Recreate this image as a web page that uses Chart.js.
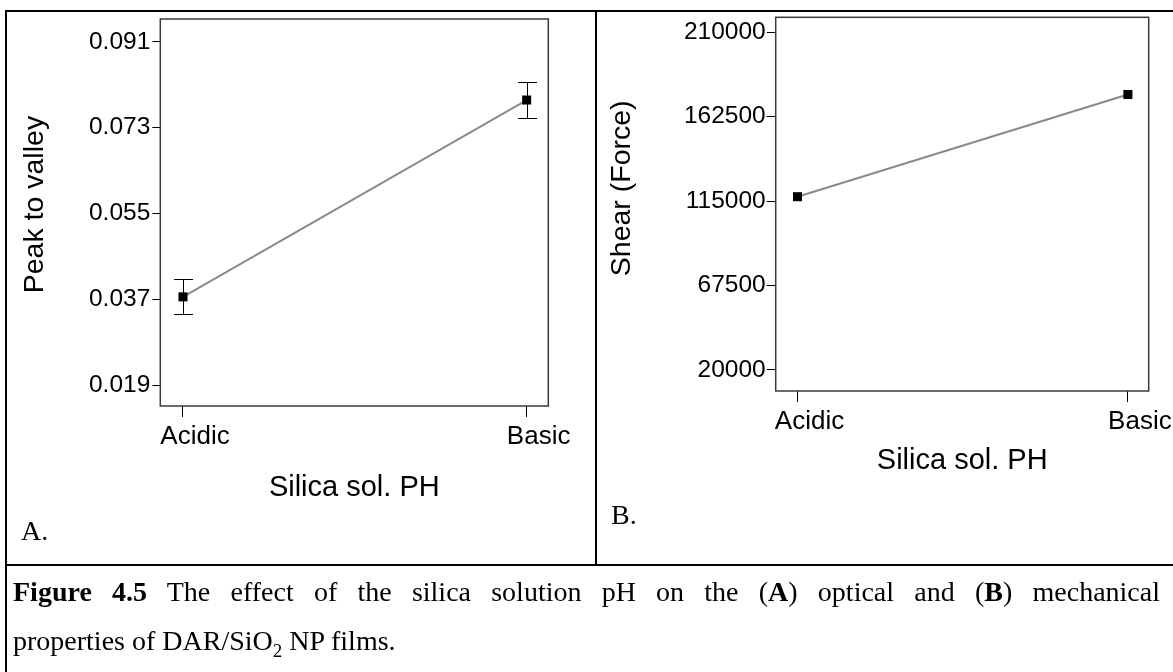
<!DOCTYPE html>
<html>
<head>
<meta charset="utf-8">
<script src="https://cdn.jsdelivr.net/npm/chart.js@4.4.1/dist/chart.umd.min.js"></script>
<style>
  body { margin: 0; background: #fff; }
  #page { position: relative; width: 1173px; height: 672px; overflow: hidden; background: #fff; }
  .rule { position: absolute; background: #000; }
  canvas { position: absolute; top: 0; }
  .tag { position: absolute; font: 28px/28px "Liberation Serif", "Times New Roman", serif; color: #000; }
  .cap { position: absolute; left: 13px; width: 1147px; font: 28px/49px "Liberation Serif", "Times New Roman", serif; color: #000; }
  .cap.first { text-align: justify; text-align-last: justify; }
</style>
</head>
<body>
<div id="page">
  <canvas id="chartA" width="596" height="565" style="left:0"></canvas>
  <canvas id="chartB" width="576" height="565" style="left:597px"></canvas>

  <div class="rule" style="left:5px;top:10px;width:1168px;height:2px"></div>
  <div class="rule" style="left:5px;top:10px;width:2px;height:662px"></div>
  <div class="rule" style="left:595px;top:10px;width:2px;height:556px"></div>
  <div class="rule" style="left:5px;top:564px;width:1168px;height:2px"></div>

  <div class="tag" style="left:21px;top:517px">A.</div>
  <div class="tag" style="left:611px;top:501px">B.</div>

  <div class="cap first" style="top:567px"><b>Figure 4.5</b> The effect of the silica solution pH on the (<b>A</b>) optical and (<b>B</b>) mechanical</div>
  <div class="cap" style="top:616px">properties of DAR/SiO<sub style="font-size:19px;line-height:0">2</sub> NP films.</div>
</div>

<script>
// Factor levels on the x axis
const categories = ['Acidic', 'Basic'];

// Panel A: peak-to-valley means and their error half-widths
const peakToValley = [0.0375, 0.0788];
const peakToValleyErr = [0.0037, 0.0037];
const peakTicks = [0.019, 0.037, 0.055, 0.073, 0.091];
const peakTickLabels = ['0.019', '0.037', '0.055', '0.073', '0.091'];

// Panel B: shear force means
const shearForce = [117500, 175000];
const shearTicks = [20000, 67500, 115000, 162500, 210000];
const shearTickLabels = ['20000', '67500', '115000', '162500', '210000'];

const SANS = '"Liberation Sans", Arial, sans-serif';

// Closed box around the plotting area
const frameBox = {
  id: 'frameBox',
  beforeDatasetsDraw(chart) {
    const { ctx, chartArea: a } = chart;
    ctx.save();
    ctx.strokeStyle = '#3a3a3a';
    ctx.lineWidth = 1.5;
    ctx.strokeRect(a.left, a.top, a.right - a.left, a.bottom - a.top);
    ctx.restore();
  }
};

// Vertical error bars with caps, from the dataset values and given half-widths
const errorBars = {
  id: 'errorBars',
  beforeDatasetsDraw(chart, args, opts) {
    if (!opts || !opts.errors) return;
    const { ctx, scales: { x, y } } = chart;
    const pts = chart.data.datasets[0].data;
    ctx.save();
    ctx.strokeStyle = '#000';
    ctx.lineWidth = 1;
    pts.forEach((p, i) => {
      const px = Math.round(x.getPixelForValue(p.x)) + 0.5;
      const top = Math.round(y.getPixelForValue(p.y + opts.errors[i])) + 0.5;
      const bot = Math.round(y.getPixelForValue(p.y - opts.errors[i])) + 0.5;
      ctx.beginPath();
      ctx.moveTo(px, top); ctx.lineTo(px, bot);
      ctx.moveTo(px - opts.cap, top); ctx.lineTo(px + opts.cap, top);
      ctx.moveTo(px - opts.cap, bot); ctx.lineTo(px + opts.cap, bot);
      ctx.stroke();
    });
    ctx.restore();
  }
};

function mainEffectsChart(id, cfg) {
  return new Chart(document.getElementById(id), {
    type: 'line',
    data: {
      datasets: [{
        data: cfg.values.map((v, i) => ({ x: i, y: v })),
        borderColor: '#8a8a8a',
        borderWidth: 2,
        tension: 0,
        pointStyle: 'rect',
        pointRadius: 6.4,
        pointHoverRadius: 6.4,
        pointBackgroundColor: '#000',
        pointBorderWidth: 0,
        clip: false
      }]
    },
    options: {
      responsive: false,
      animation: false,
      devicePixelRatio: 1,
      events: [],
      layout: { padding: { left: 0, top: cfg.top, right: cfg.right, bottom: 0 } },
      plugins: {
        legend: { display: false },
        tooltip: { enabled: false },
        errorBars: cfg.errors ? { errors: cfg.errors, cap: 9.5 } : false
      },
      scales: {
        x: {
          type: 'linear',
          min: -0.066,
          max: 1.063,
          afterBuildTicks: s => { s.ticks = categories.map((c, i) => ({ value: i })); },
          afterFit: s => { s.height = cfg.xh; },
          border: { display: false },
          grid: { drawOnChartArea: false, drawTicks: true, tickLength: 11, tickColor: '#000', tickWidth: 1 },
          ticks: {
            autoSkip: false, maxRotation: 0, padding: 4, labelOffset: 12, color: '#000',
            font: { family: SANS, size: 26 },
            callback: (v, i) => categories[i]
          },
          title: {
            display: true, text: 'Silica sol. PH', color: '#000',
            font: { family: SANS, size: 29 },
            padding: { top: 0, bottom: cfg.xtPad }
          }
        },
        y: {
          type: 'linear',
          min: cfg.yMin,
          max: cfg.yMax,
          afterBuildTicks: s => { s.ticks = cfg.ticks.map(v => ({ value: v })); },
          afterFit: s => { s.width = cfg.yw; },
          border: { display: false },
          grid: { drawOnChartArea: false, drawTicks: true, tickLength: cfg.yTickLen, tickColor: '#000', tickWidth: 1 },
          ticks: {
            autoSkip: false, padding: cfg.yTickPad, color: '#000',
            font: { family: SANS, size: 24.5 },
            callback: (v, i) => cfg.tickLabels[i]
          },
          title: {
            display: true,
            // leading spaces lift the rotated title a little above the axis centre
            text: ' '.repeat(cfg.yTitleLift) + cfg.yTitle,
            color: '#000',
            font: { family: SANS, size: 28.5 },
            padding: { top: cfg.ytPad, bottom: 0 }
          }
        }
      }
    },
    plugins: [frameBox, errorBars]
  });
}

mainEffectsChart('chartA', {
  values: peakToValley, errors: peakToValleyErr,
  ticks: peakTicks, tickLabels: peakTickLabels,
  yMin: 0.0146, yMax: 0.0958, yTitle: 'Peak to valley', yTitleLift: 2,
  top: 19, right: 47.7, yw: 160.3, xh: 159,
  ytPad: 17.9, xtPad: 59.6, yTickLen: 8, yTickPad: 2
});

mainEffectsChart('chartB', {
  values: shearForce, errors: null,
  ticks: shearTicks, tickLabels: shearTickLabels,
  yMin: 8180, yMax: 218440, yTitle: 'Shear (Force)', yTitleLift: 4,
  top: 17.3, right: 24.3, yw: 178.7, xh: 174,
  ytPad: 7.9, xtPad: 86.6, yTickLen: 9, yTickPad: 1
});
</script>
</body>
</html>
